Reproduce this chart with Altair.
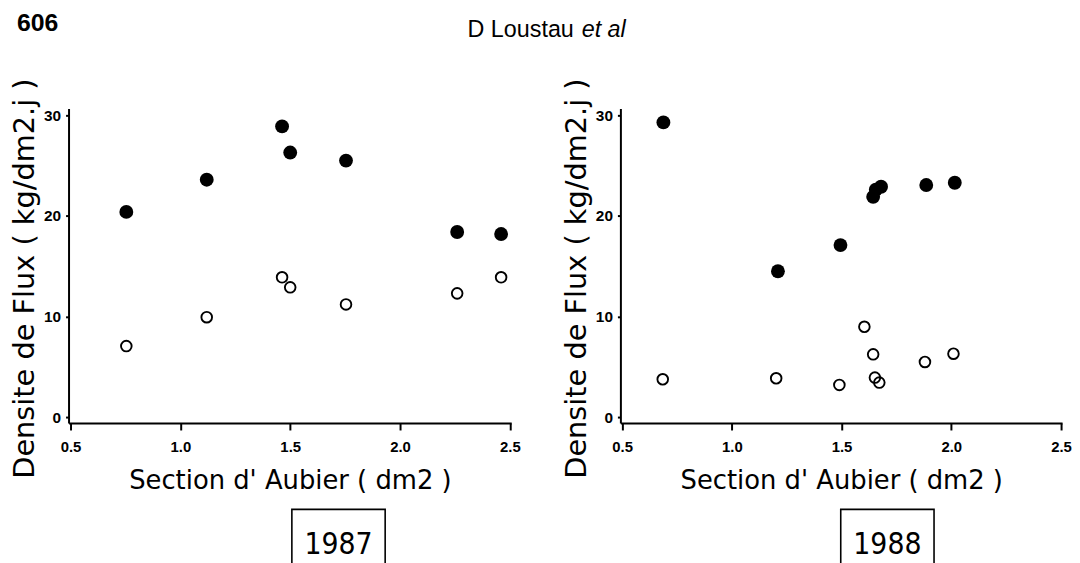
import altair as alt
import pandas as pd

# ---- data ----
x_ticks = [0.5, 1.0, 1.5, 2.0, 2.5]
y_ticks = [0, 10, 20, 30]

sec_1987_pleins = [0.754, 1.12, 1.463, 1.50, 1.754, 2.26, 2.46]
flux_1987_pleins = [20.4, 23.6, 28.9, 26.3, 25.5, 18.4, 18.2]
sec_1987_vides = [0.754, 1.12, 1.463, 1.50, 1.754, 2.26, 2.46]
flux_1987_vides = [7.06, 9.93, 13.9, 12.9, 11.2, 12.3, 13.9]

sec_1988_pleins = [0.688, 1.21, 1.495, 1.644, 1.656, 1.68, 1.886, 2.016]
flux_1988_pleins = [29.3, 14.5, 17.1, 21.9, 22.6, 22.9, 23.07, 23.3]
sec_1988_vides = [0.685, 1.202, 1.49, 1.604, 1.644, 1.652, 1.672, 1.88, 2.01]
flux_1988_vides = [3.76, 3.86, 3.2, 8.98, 6.24, 3.93, 3.43, 5.48, 6.3]

annees = ["1987", "1988"]
page_num = "606"
auteur = "D Loustau "
auteur_it = "et al"
x_title = "Section d' Aubier ( dm2 )"
y_title = "Densite de Flux ( kg/dm2.j )"

PLOT_H = 317
Y_DOMAIN = [-0.59, 30.69]


def panel(sec_p, flux_p, sec_v, flux_v, year, x_domain, width, box_x, header=False):
    dfp = pd.DataFrame({"sec": sec_p, "flux": flux_p})
    dfv = pd.DataFrame({"sec": sec_v, "flux": flux_v})
    xs = alt.Scale(domain=x_domain, nice=False, zero=False)
    ys = alt.Scale(domain=Y_DOMAIN, nice=False, zero=False)
    xax = alt.Axis(
        values=x_ticks, format=".1f", title=x_title, grid=False,
        tickSize=7, tickWidth=2, domainWidth=2, domainColor="black", tickColor="black",
        labelFont="Liberation Sans", labelFontWeight="bold", labelFontSize=15,
        labelColor="black", labelPadding=10, labelFlush=False, labelOverlap=False,
        titleFont="DejaVu Sans", titleFontSize=26, titleFontWeight="normal",
        titleColor="black", titleX=width / 2, titleY=66,
        titleAlign="center", titleBaseline="alphabetic",
    )
    yax = alt.Axis(
        values=y_ticks, format="d", title=y_title, grid=False,
        tickSize=3, tickWidth=2, domainWidth=2, domainColor="black", tickColor="black",
        labelFont="Liberation Sans", labelFontWeight="bold", labelFontSize=15.5,
        labelColor="black", labelPadding=5, labelFlush=False, labelOverlap=False,
        titleFont="DejaVu Sans", titleFontSize=29, titleFontWeight="normal",
        titleColor="black", titleX=-35, titleY=171, titleAngle=270,
        titleAlign="center", titleBaseline="alphabetic",
    )
    pleins = alt.Chart(dfp).mark_point(filled=True, size=195, color="black", opacity=1).encode(
        x=alt.X("sec:Q", scale=xs, axis=xax),
        y=alt.Y("flux:Q", scale=ys, axis=yax),
    )
    vides = alt.Chart(dfv).mark_point(filled=False, size=115, strokeWidth=1.9, color="black", opacity=1).encode(
        x=alt.X("sec:Q", scale=xs),
        y=alt.Y("flux:Q", scale=ys),
    )
    ydf = pd.DataFrame({"annee": [year]})
    box = alt.Chart(ydf).mark_rect(fillOpacity=0, stroke="black", strokeWidth=1.6).encode(
        x=alt.value(box_x), x2=alt.value(box_x + 94),
        y=alt.value(404), y2=alt.value(472),
    )
    label = alt.Chart(ydf).mark_text(
        font="DejaVu Sans Condensed, Liberation Sans Narrow, Liberation Sans",
        fontSize=30, fontWeight=300, color="black", align="center", baseline="alphabetic",
    ).encode(text="annee:N", x=alt.value(box_x + 47), y=alt.value(449))
    layers = [pleins, vides, box, label]
    if header:
        hdf = pd.DataFrame({"p": [page_num], "a": [auteur], "b": [auteur_it]})
        t1 = alt.Chart(hdf).mark_text(font="Liberation Sans", fontWeight="bold", fontSize=25,
                                      color="black", align="left", baseline="alphabetic").encode(
            text="p:N", x=alt.value(-52), y=alt.value(-78))
        t2 = alt.Chart(hdf).mark_text(font="Liberation Sans", fontSize=23.5,
                                      color="black", align="left", baseline="alphabetic").encode(
            text="a:N", x=alt.value(402), y=alt.value(-72))
        t3 = alt.Chart(hdf).mark_text(font="Liberation Sans", fontSize=23.5, fontStyle="italic",
                                      color="black", align="left", baseline="alphabetic").encode(
            text="b:N", x=alt.value(517), y=alt.value(-72))
        layers += [t1, t2, t3]
    return alt.layer(*layers).properties(width=width, height=PLOT_H)


left = panel(sec_1987_pleins, flux_1987_pleins, sec_1987_vides, flux_1987_vides,
             annees[0], [0.491, 2.506], 446, 225, header=True)
right = panel(sec_1988_pleins, flux_1988_pleins, sec_1988_vides, flux_1988_vides,
              annees[1], [0.492, 2.505], 445, 222)

chart = alt.hconcat(left, right, spacing=110, bounds="flush").properties(
    autosize=alt.AutoSizeParams(type="pad"),
    padding={"left": 2, "top": 1, "right": 0, "bottom": 0},
).configure(background="white").configure_view(stroke=None)

chart.save("out.html", embed_options={"renderer": "svg", "actions": False})
